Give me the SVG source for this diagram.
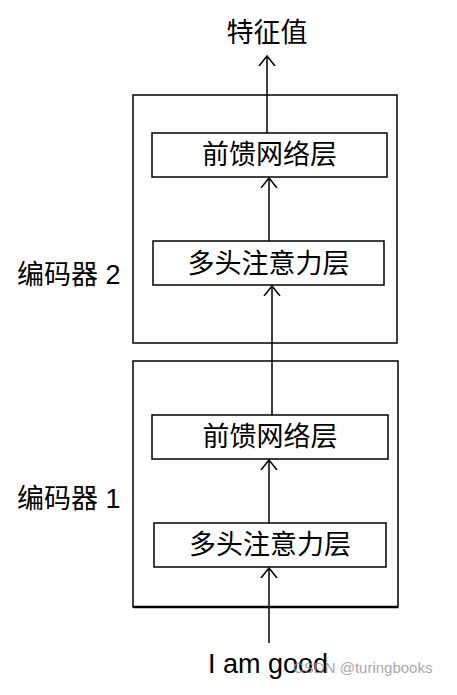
<svg xmlns="http://www.w3.org/2000/svg" width="457" height="695" viewBox="0 0 457 695">
<style>
.box{fill:none;stroke:#000;stroke-width:1.5}
.enc{fill:none;stroke:#000;stroke-width:1.5}
.t{font-family:"Liberation Sans","Noto Sans CJK SC",sans-serif;font-size:27px;fill:#000}
.c{text-anchor:middle}
.line{stroke:#000;stroke-width:1.5;fill:none}
.wm{font-family:"Liberation Sans",sans-serif;font-size:15px;fill:#9a9a9a;opacity:0.85}
</style>
<defs>
<marker id="ah" markerWidth="20" markerHeight="20" refX="10" refY="10" orient="auto" markerUnits="userSpaceOnUse">
<path d="M0,2 L10,10 L0,18" fill="none" stroke="#000" stroke-width="1.5"/>
</marker>
</defs>
<rect width="457" height="695" fill="#fff"/>
<g id="output"><text class="t c" x="267" y="42">特征值</text></g>
<g id="encoder2">
<rect class="enc" x="133" y="95" width="264" height="248"/>
<text class="t" x="17" y="284">编码器 2</text>
</g>
<g id="ffn2"><rect class="box" x="152" y="133" width="235" height="44"/><text class="t c" x="269.5" y="164">前馈网络层</text></g>
<g id="mha2"><rect class="box" x="153" y="241" width="231" height="44"/><text class="t c" x="268.5" y="273">多头注意力层</text></g>
<g id="encoder1">
<rect class="enc" x="133" y="361" width="265" height="246"/>
<line x1="133" y1="607" x2="398" y2="607" stroke="#000" stroke-width="2.5"/>
<text class="t" x="17" y="508">编码器 1</text>
</g>
<g id="ffn1"><rect class="box" x="152" y="415" width="236" height="44"/><text class="t c" x="270" y="446">前馈网络层</text></g>
<g id="mha1"><rect class="box" x="154" y="523" width="232" height="44"/><text class="t c" x="270" y="554">多头注意力层</text></g>
<g id="input"><text class="t c" x="268" y="673">I am good</text></g>
<g id="connectors">
<line class="line" x1="269" y1="643" x2="269" y2="568" marker-end="url(#ah)"/>
<line class="line" x1="269" y1="523" x2="269" y2="460" marker-end="url(#ah)"/>
<line class="line" x1="272" y1="415" x2="272" y2="286" marker-end="url(#ah)"/>
<line class="line" x1="269" y1="241" x2="269" y2="178" marker-end="url(#ah)"/>
<line class="line" x1="267" y1="133" x2="267" y2="56" marker-end="url(#ah)"/>
</g>
<text class="wm" x="293" y="673">CSDN @turingbooks</text>
</svg>
